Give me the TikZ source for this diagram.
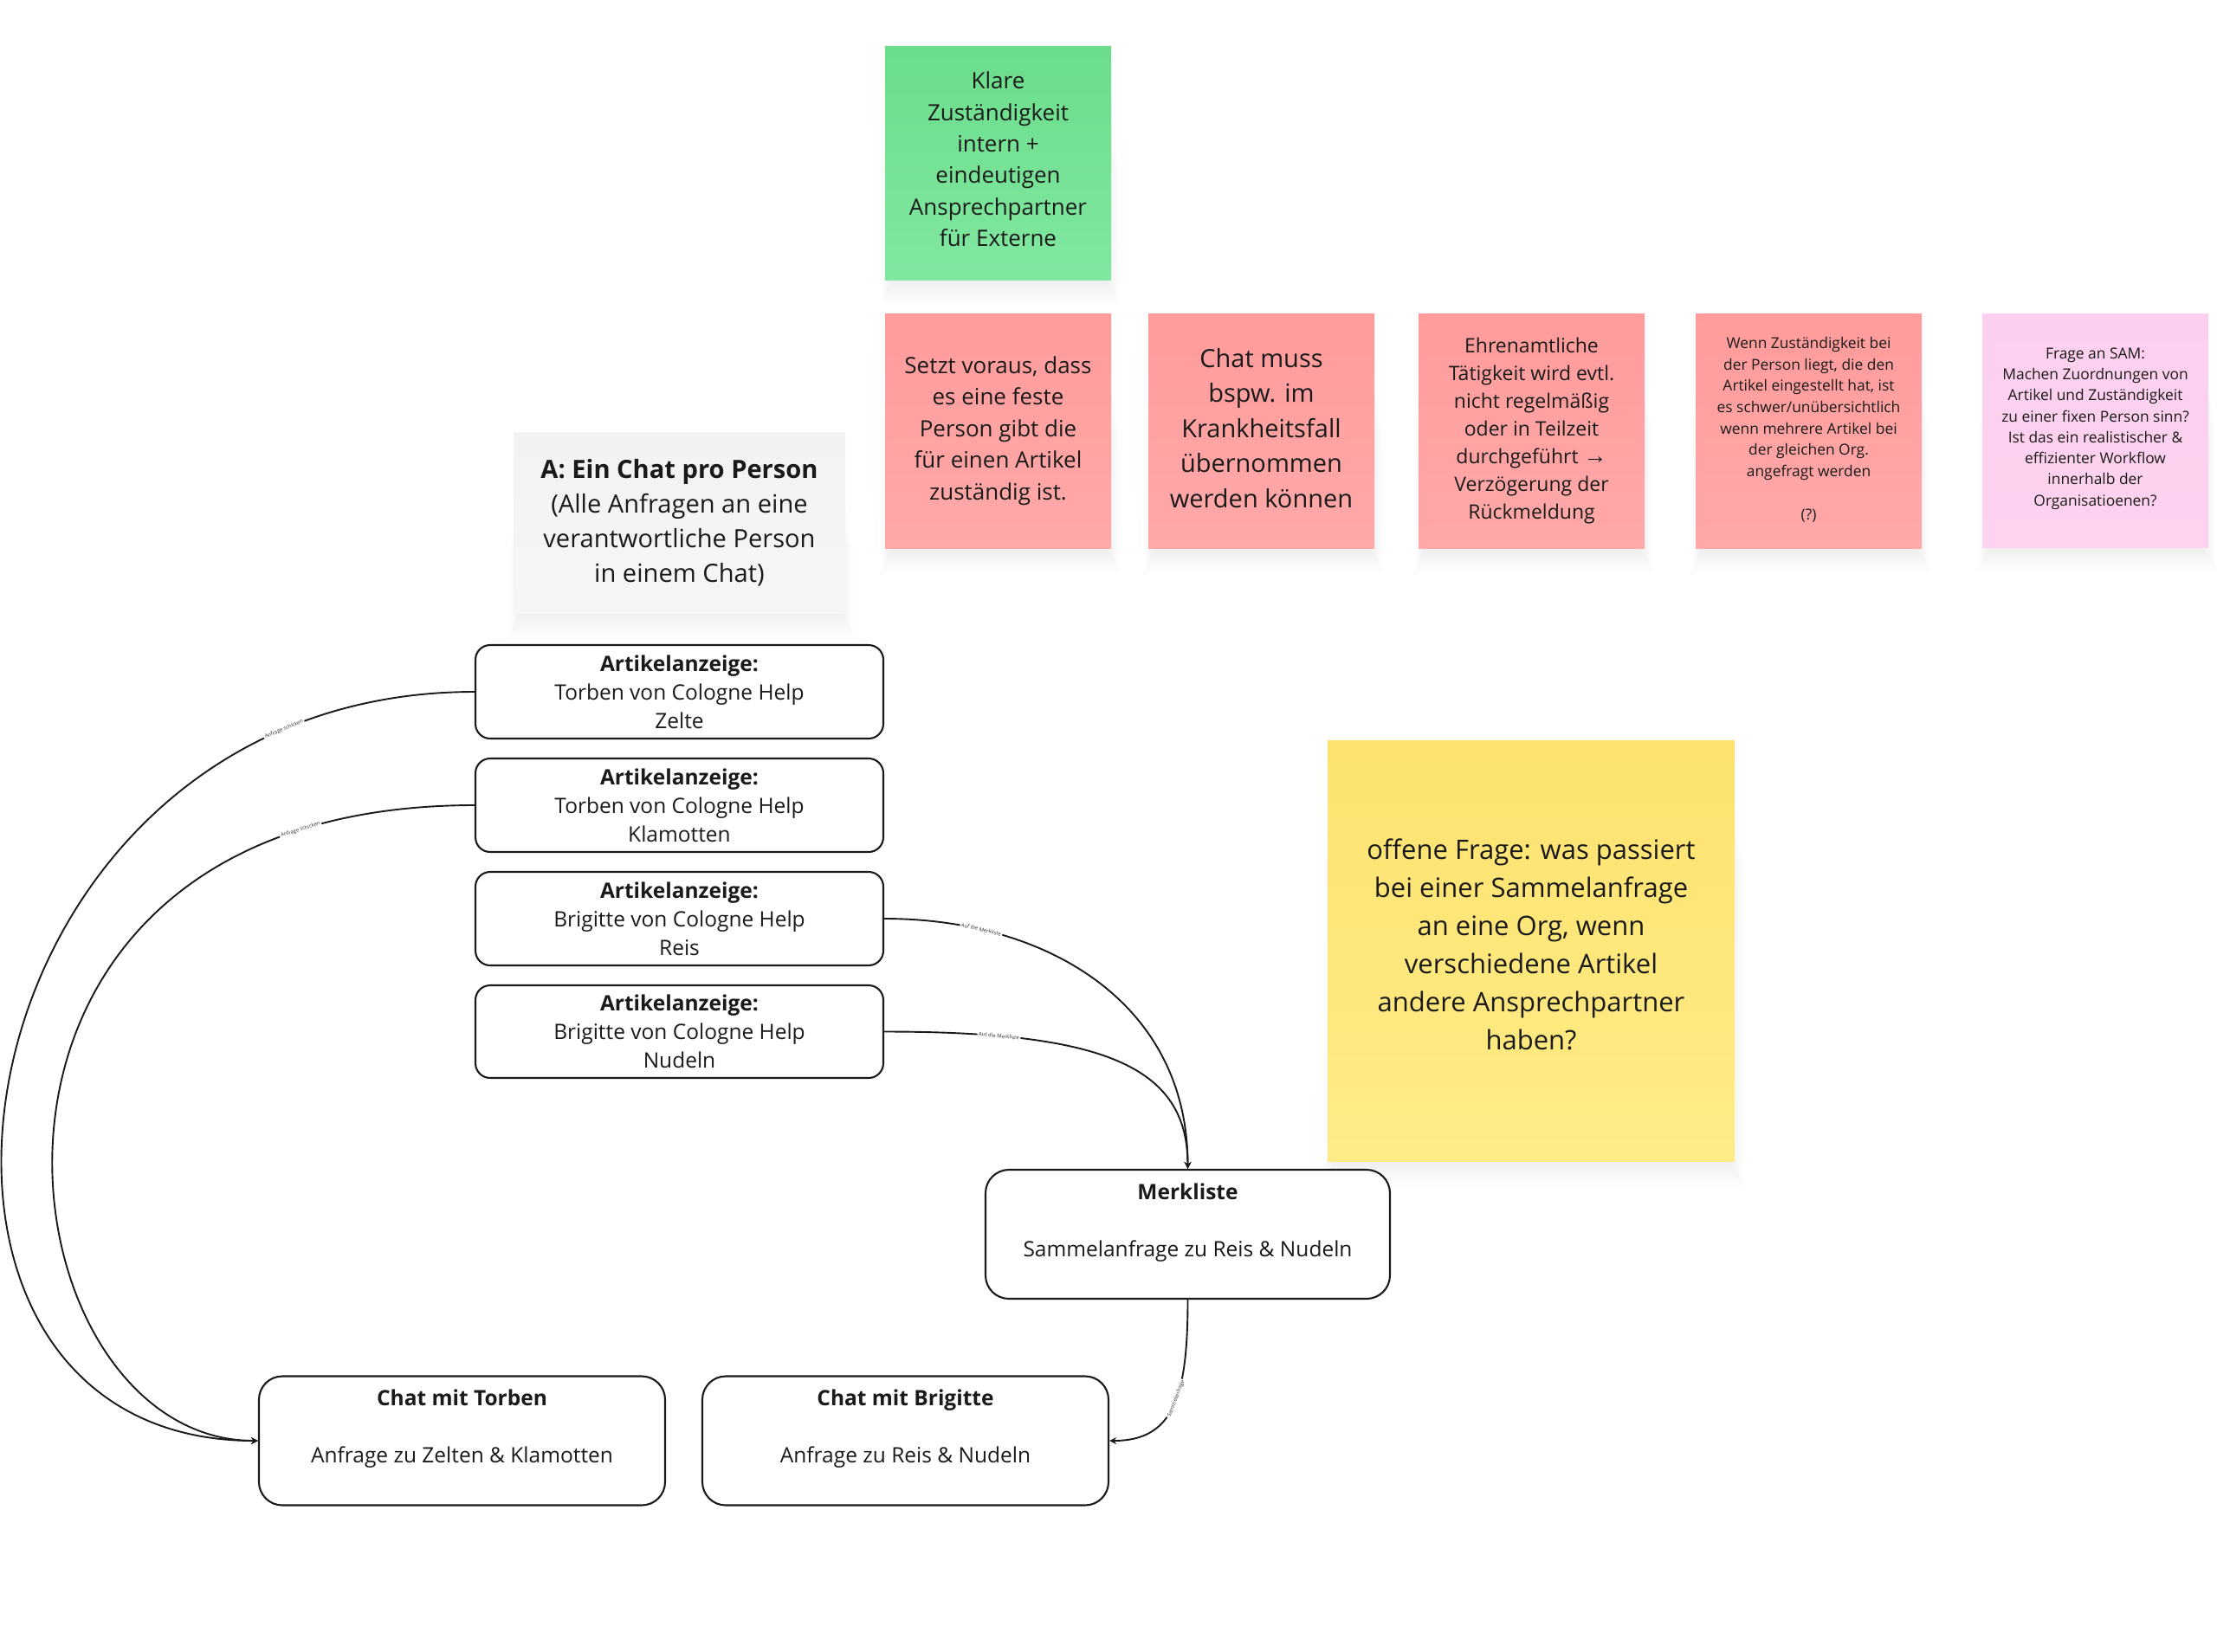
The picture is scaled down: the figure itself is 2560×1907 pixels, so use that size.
\documentclass[tikz,border=0pt]{standalone}
\usepackage{fontspec}
\setmainfont{Open Sans}
\newfontfamily\arrowfont{Liberation Sans}
\usetikzlibrary{arrows.meta}
\definecolor{ink}{HTML}{1A1A1A}
\newcommand{\fs}[2]{\fontsize{#1}{#2}\selectfont}
\tikzset{
  x=1pt,y=-1pt,
  note/.style={inner sep=0pt,align=center,text=ink,anchor=center},
  flow/.style={draw=ink,line width=2.1pt,rounded corners=17pt,fill=white,inner sep=0pt,align=center,text=ink,
    font=\fs{24.5}{33}},
  bigflow/.style={flow,rounded corners=27pt},
  conn/.style={draw=ink,line width=1.9pt,-{Stealth[length=8pt,width=8pt]}},
  edgelabel/.style={font=\fs{6}{7},text=ink!90,fill=white,inner xsep=1.5pt,inner ysep=1pt,sloped}
}
\definecolor{greentop}{HTML}{6BDD8B}
\definecolor{greenbot}{HTML}{81E7A0}
\definecolor{redtop}{HTML}{FF9B9B}
\definecolor{redbot}{HTML}{FFA9A9}
\definecolor{pinktop}{HTML}{FCCFEE}
\definecolor{pinkbot}{HTML}{FDD3F0}
\definecolor{yeltop}{HTML}{FDE26F}
\definecolor{yelbot}{HTML}{FFEC87}
\definecolor{graytop}{HTML}{F1F2F4}
\definecolor{graybot}{HTML}{F5F6F8}
% name, x1,y1,x2,y2, colour prefix, text shift, font cmd, text
\newcommand{\sticky}[9]{%
  \foreach \i in {1,...,16}{%
    \fill[black,opacity=0.005] ({#2+8-\i*0.8},{#3+40+\i*6}) rectangle ({#4-6+\i*1.0},{#5+\i*1.9});
  }%
  \shade[top color=#6top,bottom color=#6bot] (#2,#3) rectangle (#4,#5);
  \node[note,font=#8] (#1) at ({(#2+#4)/2},{(#3+#5)/2+#7}) {#9};
}
\newcommand{\flowbox}[7]{%
  \node[#2,minimum width={(#5-(#3))*1pt},minimum height={(#6-(#4))*1pt}] (#1) at ({(#3+#5)/2},{(#4+#6)/2}) {#7};
}
\begin{document}
\begin{tikzpicture}
\useasboundingbox (0,0) rectangle (2560,1907);
\fill[white] (0,0) rectangle (2560,1907);

\sticky{ziel}{1022}{53}{1283}{323}{green}{-4}{\fs{26}{36.4}}{Klare\\Zuständigkeit\\intern +\\eindeutigen\\Ansprechpartner\\für Externe}
\sticky{rot1}{1022}{362}{1283}{633}{red}{0}{\fs{26}{36.4}}{Setzt voraus, dass\\es eine feste\\Person gibt die\\für einen Artikel\\zuständig ist.}
\sticky{rot2}{1326}{362}{1587}{633}{red}{-3}{\fs{29}{40.4}}{Chat muss\\bspw. im\\Krankheitsfall\\übernommen\\werden können}
\sticky{rot3}{1638}{362}{1899}{633}{red}{0}{\fs{23}{32}}{Ehrenamtliche\\Tätigkeit wird evtl.\\nicht regelmäßig\\oder in Teilzeit\\durchgeführt {\arrowfont\fontsize{27}{32}\selectfont →}\\Verzögerung der\\Rückmeldung}
\sticky{rot4}{1958}{362}{2219}{633}{red}{-1.5}{\fs{17.4}{24.7}}{Wenn Zuständigkeit bei\\der Person liegt, die den\\Artikel eingestellt hat, ist\\es schwer/unübersichtlich\\wenn mehrere Artikel bei\\der gleichen Org.\\angefragt werden\\~\\(?)}
\sticky{sam}{2289}{362}{2550}{632}{pink}{-2}{\fs{17.4}{24.3}}{Frage an SAM:\\Machen Zuordnungen von\\Artikel und Zuständigkeit\\zu einer fixen Person sinn?\\Ist das ein realistischer \&\\effizienter Workflow\\innerhalb der\\Organisatioenen?}
\sticky{titel}{593}{499}{976}{708}{gray}{0}{\fs{29.1}{40}}{\textbf{A: Ein Chat pro Person}\\(Alle Anfragen an eine\\verantwortliche Person\\in einem Chat)}
\sticky{frage}{1533}{855}{2003}{1341}{yel}{-7}{\fs{31}{44}}{offene Frage: was passiert\\bei einer Sammelanfrage\\an eine Org, wenn\\verschiedene Artikel\\andere Ansprechpartner\\haben?}

\flowbox{art1}{flow}{549}{745}{1020}{853}{\textbf{Artikelanzeige:}\\Torben von Cologne Help\\Zelte}
\flowbox{art2}{flow}{549}{876}{1020}{984}{\textbf{Artikelanzeige:}\\Torben von Cologne Help\\Klamotten}
\flowbox{art3}{flow}{549}{1007}{1020}{1115}{\textbf{Artikelanzeige:}\\Brigitte von Cologne Help\\Reis}
\flowbox{art4}{flow}{549}{1138}{1020}{1245}{\textbf{Artikelanzeige:}\\Brigitte von Cologne Help\\Nudeln}
\flowbox{merk}{bigflow}{1138}{1351}{1605}{1500}{\textbf{Merkliste}\\~\\Sammelanfrage zu Reis \& Nudeln\\~}
\flowbox{torben}{bigflow}{299}{1589.5}{768}{1738.5}{\textbf{Chat mit Torben}\\~\\Anfrage zu Zelten \& Klamotten\\~}
\flowbox{brigitte}{bigflow}{811}{1589.5}{1280}{1738.5}{\textbf{Chat mit Brigitte}\\~\\Anfrage zu Reis \& Nudeln\\~}

\draw[conn] (art1.west) .. controls +(-610,0) and +(-480,0) .. node[edgelabel,pos=0.135] (l1) {Anfrage schicken} (torben.west);
\draw[conn] (art2.west) .. controls +(-654,0) and +(-305,0) .. node[edgelabel,pos=0.118] (l2) {Anfrage schicken} (torben.west);
\draw[conn] (art3.east) .. controls +(190,0) and +(0,-190) .. node[edgelabel,pos=0.205] (l3) {Auf die Merkliste} (merk.north);
\draw[conn] (art4.east) .. controls +(250,0) and +(0,-120) .. node[edgelabel,pos=0.2] (l4) {Auf die Merkliste} (merk.north);
\draw[conn] (merk.south) .. controls +(0,110) and +(75,0) .. node[edgelabel,pos=0.45] (l5) {Sammelanfrage} (brigitte.east);
\end{tikzpicture}
\end{document}
